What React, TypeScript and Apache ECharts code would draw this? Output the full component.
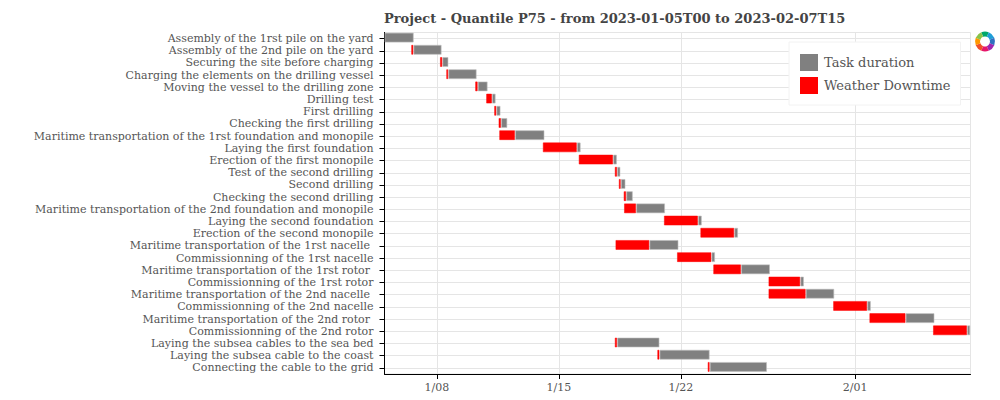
import React, { useEffect, useRef } from "react";
import * as echarts from "echarts";

const title = "Project - Quantile P75 - from 2023-01-05T00 to 2023-02-07T15";
const categories = [
  "Assembly of the 1rst pile on the yard",
  "Assembly of the 2nd pile on the yard",
  "Securing the site before charging",
  "Charging the elements on the drilling vessel",
  "Moving the vessel to the drilling zone",
  "Drilling test",
  "First drilling",
  "Checking the first drilling",
  "Maritime transportation of the 1rst foundation and monopile",
  "Laying the first foundation",
  "Erection of the first monopile",
  "Test of the second drilling",
  "Second drilling",
  "Checking the second drilling",
  "Maritime transportation of the 2nd foundation and monopile",
  "Laying the second foundation",
  "Erection of the second monopile",
  "Maritime transportation of the 1rst nacelle\u00a0",
  "Commissionning of the 1rst nacelle",
  "Maritime transportation of the 1rst rotor\u00a0",
  "Commissionning of the 1rst rotor",
  "Maritime transportation of the 2nd nacelle\u00a0",
  "Commissionning of the 2nd nacelle",
  "Maritime transportation of the 2nd rotor\u00a0",
  "Commissionning of the 2nd rotor",
  "Laying the subsea cables to the sea bed",
  "Laying the subsea cable to the coast",
  "Connecting the cable to the grid",
];
// day-of-January values
const startDays = [5, 6.53, 8.18, 8.54, 10.2, 10.83, 11.29, 11.54, 11.58, 14.08, 16.14, 18.21, 18.44, 18.72, 18.74, 21.03, 23.12, 18.25, 21.78, 23.86, 27.03, 27.03, 30.74, 32.82, 36.47, 18.21, 20.65, 23.54];
const downtimeEnd = [5, 6.66, 8.32, 8.66, 10.35, 11.17, 11.42, 11.69, 12.49, 16.04, 18.12, 18.35, 18.56, 18.87, 19.44, 22.99, 25.07, 20.2, 23.76, 25.46, 28.86, 29.17, 32.7, 34.9, 38.43, 18.35, 20.78, 23.66];
const endDays = [6.68, 8.28, 8.67, 10.29, 10.92, 11.38, 11.66, 12.05, 14.18, 16.26, 18.34, 18.54, 18.83, 19.25, 21.1, 23.21, 25.29, 21.87, 23.97, 27.12, 29.07, 30.81, 32.91, 36.56, 38.61, 20.78, 23.66, 26.95];
const tickDays = [8, 15, 22, 32];
const tickLabels = ["1/08", "1/15", "1/22", "2/01"];
const axisMin = 5;
const axisMax = 38.625;

const FONT = "DejaVu Serif";
const TEXT = "#555555";
const GRID = "#e5e5e5";

const LOGO = [
  { color: "#00a86b", a: 68, b: 112 },
  { color: "#1f9ed8", a: 22, b: 68 },
  { color: "#2e6fc0", a: -22, b: 22 },
  { color: "#9c27b0", a: -68, b: -22 },
  { color: "#e6166a", a: -112, b: -68 },
  { color: "#f0502a", a: -158, b: -112 },
  { color: "#ff9800", a: 158, b: 202 },
  { color: "#8bc34a", a: 112, b: 158 },
];

export default function App() {
  const ref = useRef<HTMLDivElement>(null);
  useEffect(() => {
    const chart = echarts.init(ref.current!, null, { renderer: "svg", width: 1000, height: 400 });
    chart.setOption({
      animation: false,
      backgroundColor: "#ffffff",
      title: {
        text: title,
        left: 384,
        top: 12,
        padding: 0,
        textStyle: { fontFamily: FONT, fontSize: 13, fontWeight: "bold", color: "#444444" },
      },
      grid: { left: 384.5, right: 29.5, top: 32.5, bottom: 26, show: true, borderColor: GRID, borderWidth: 1, backgroundColor: "transparent" },
      legend: {
        left: 789,
        top: 42,
        orient: "vertical",
        padding: [12, 10, 11, 11],
        itemWidth: 18,
        itemHeight: 17,
        itemGap: 6,
        icon: "rect",
        backgroundColor: "#ffffff",
        borderColor: "#f2f2f2",
        borderWidth: 1,
        itemStyle: { borderWidth: 0 },
        data: ["Task duration", "Weather Downtime"],
        textStyle: { fontFamily: FONT, fontSize: 13, color: TEXT, padding: [0, 0, 4, 1] },
      },
      xAxis: {
        type: "value",
        min: axisMin,
        max: axisMax,
        axisLine: { show: true, onZero: false, lineStyle: { color: "#000", width: 1 } },
        axisTick: { show: true, customValues: tickDays, length: 5, lineStyle: { color: "#000" } },
        axisLabel: {
          customValues: tickDays,
          formatter: (v: number) => tickLabels[tickDays.indexOf(v)] ?? "",
          fontFamily: FONT,
          fontSize: 11,
          color: TEXT,
          margin: 8,
        },
        splitLine: { show: true, lineStyle: { color: GRID, width: 1 } },
      },
      yAxis: {
        type: "category",
        inverse: true,
        data: categories,
        axisLine: { show: true, lineStyle: { color: "#000", width: 1 } },
        axisTick: { show: true, alignWithLabel: true, length: 5, lineStyle: { color: "#000" } },
        axisLabel: { interval: 0, fontFamily: FONT, fontSize: 11, color: TEXT, margin: 11, padding: [0, 0, 2, 0] },
        splitLine: { show: true, interval: 0, alignWithLabel: true, lineStyle: { color: GRID, width: 1 } },
      },
      series: [
        {
          name: "offset",
          type: "bar",
          stack: "gantt",
          barWidth: 10,
          barGap: 0,
          silent: true,
          itemStyle: { color: "transparent" },
          data: startDays,
        },
        {
          name: "Weather Downtime",
          type: "bar",
          stack: "gantt",
          barWidth: 10,
          z: 4,
          itemStyle: { color: "#ff0000", borderColor: "rgba(255,0,0,0.5)", borderWidth: 1 },
          data: downtimeEnd.map((d, i) => (d === startDays[i] ? "-" : +(d - startDays[i]).toFixed(2))),
        },
        {
          name: "Task duration",
          type: "bar",
          stack: "gantt",
          barWidth: 10,
          z: 3,
          itemStyle: { color: "#808080", borderColor: "rgba(190,190,190,0.6)", borderWidth: 1 },
          data: endDays.map((d, i) => +(d - downtimeEnd[i]).toFixed(2)),
        },
        // empty series: only nudges the gantt bars slightly above the row line, as in the reference
        { name: "spacer", type: "bar", stack: "spacer", barWidth: 2, barGap: 0, silent: true, data: [] },
      ],
      graphic: LOGO.map((s) => ({
        type: "sector",
        silent: true,
        shape: { cx: 985, cy: 41.5, r: 10, r0: 5, startAngle: (-s.b * Math.PI) / 180, endAngle: (-s.a * Math.PI) / 180 },
        style: { fill: s.color },
      })),
    });
    return () => chart.dispose();
  }, []);
  return <div ref={ref} style={{ width: 1000, height: 400, position: "absolute", left: 0, top: 0 }} />;
}
